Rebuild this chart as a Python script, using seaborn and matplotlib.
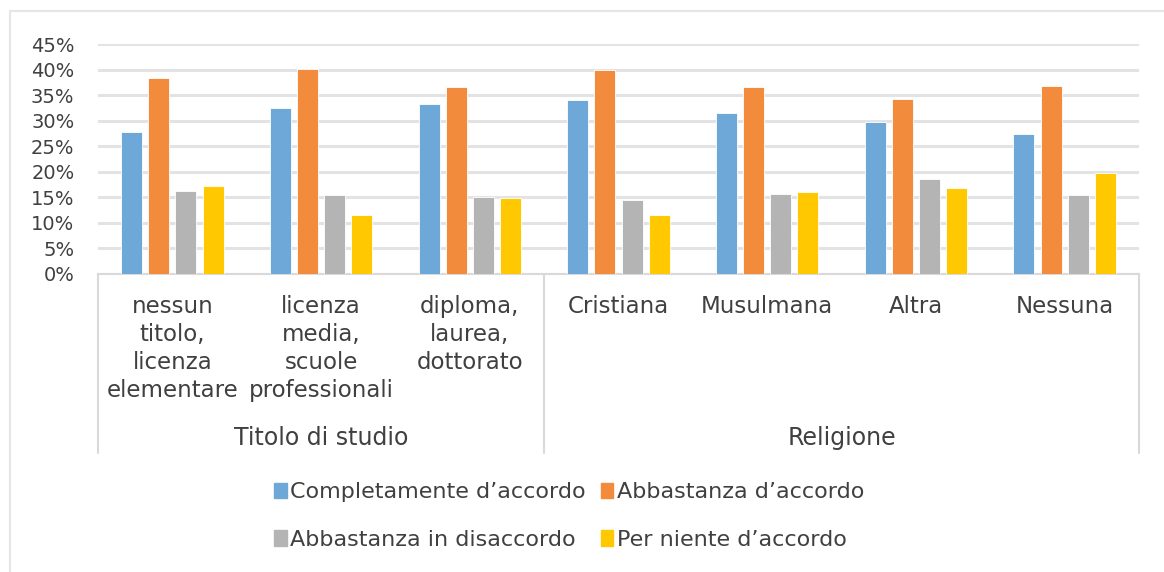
import pandas as pd
import matplotlib.pyplot as plt
import seaborn as sns
from matplotlib.lines import Line2D

# categories and groups
categories = ['nessun\ntitolo,\nlicenza\nelementare', 'licenza\nmedia,\nscuole\nprofessionali',
              'diploma,\nlaurea,\ndottorato', 'Cristiana', 'Musulmana', 'Altra', 'Nessuna']
groups = ['Titolo di studio', 'Religione']
group_sizes = [3, 4]

series = ['Completamente d\u2019accordo', 'Abbastanza d\u2019accordo',
          'Abbastanza in disaccordo', 'Per niente d\u2019accordo']
completamente = [0.278, 0.325, 0.333, 0.340, 0.316, 0.298, 0.275]
abbastanza = [0.384, 0.401, 0.366, 0.399, 0.366, 0.342, 0.369]
disaccordo = [0.162, 0.154, 0.151, 0.145, 0.157, 0.186, 0.154]
per_niente = [0.172, 0.115, 0.148, 0.115, 0.160, 0.168, 0.198]

yticks = [0, 0.05, 0.10, 0.15, 0.20, 0.25, 0.30, 0.35, 0.40, 0.45]
ytick_labels = ['0%', '5%', '10%', '15%', '20%', '25%', '30%', '35%', '40%', '45%']

colors = ['#6DA8D8', '#F28C3C', '#B4B4B4', '#FFC800']

rows = []
for name, vals in zip(series, [completamente, abbastanza, disaccordo, per_niente]):
    for cat, v in zip(categories, vals):
        rows.append({'categoria': cat, 'serie': name, 'valore': v})
df = pd.DataFrame(rows)

sns.set_style('white')
plt.rcParams['font.family'] = ['DejaVu Sans']
text_color = '#404040'

fig = plt.figure(figsize=(11.64, 5.72), dpi=100)
W, H = 1164, 572
x0, x1, y0, y1 = 98, 1139, 274, 44.3
ax = fig.add_axes([x0 / W, 1 - y0 / H, (x1 - x0) / W, (y0 - y1) / H])

sns.barplot(data=df, x='categoria', y='valore', hue='serie', order=categories,
            hue_order=series, palette=colors, saturation=1, width=0.73, gap=0.23,
            edgecolor='white', linewidth=0.6, legend=False, ax=ax, zorder=3)

ax.set_ylim(0, 0.45)
ax.set_xlim(-0.5, len(categories) - 0.5)
ax.set_yticks(yticks)
ax.set_yticklabels(ytick_labels, fontsize=14, color=text_color)
ax.yaxis.grid(True, color='#E3E3E3', linewidth=2.2, zorder=0)
ax.set_axisbelow(True)
ax.set_xlabel('')
ax.set_ylabel('')
ax.set_xticks(range(len(categories)))
ax.set_xticklabels(categories, fontsize=16.5, color=text_color, linespacing=1.28,
                   va='top', multialignment='center')
ax.tick_params(axis='x', length=0, pad=15)
ax.tick_params(axis='y', length=0, pad=17)
for side in ['top', 'right', 'left']:
    ax.spines[side].set_visible(False)
ax.spines['bottom'].set_color('#D9D9D9')
ax.spines['bottom'].set_linewidth(1.5)

# vertical separators of the category axis
bottom_y = 452.7
pos = 0
seps = [-0.5]
for n in group_sizes:
    pos += n
    seps.append(pos - 0.5)
for s in seps:
    xf = (x0 + (s + 0.5) / len(categories) * (x1 - x0)) / W
    fig.add_artist(Line2D([xf, xf], [1 - y0 / H, 1 - bottom_y / H],
                          color='#D9D9D9', linewidth=1.5))
for i, g in enumerate(groups):
    cx = (seps[i] + seps[i + 1]) / 2
    xf = (x0 + (cx + 0.5) / len(categories) * (x1 - x0)) / W
    fig.text(xf, 1 - 438 / H, g, ha='center', va='center', fontsize=17, color=text_color)

# outer border (top and left only visible)
fig.add_artist(Line2D([10 / W, 1], [1 - 11 / H, 1 - 11 / H], color='#E6E6E6', linewidth=1.6))
fig.add_artist(Line2D([10 / W, 10 / W], [1 - 11 / H, 0], color='#E6E6E6', linewidth=1.6))

# legend, filled row by row
handles = [plt.Rectangle((0, 0), 1, 1, color=c) for c in colors]
order = [0, 2, 1, 3]
fig.legend([handles[i] for i in order], [series[i] for i in order], loc='center',
           bbox_to_anchor=(0.489, 1 - 516 / H), ncol=2,
           frameon=False, fontsize=16, handlelength=0.55, handleheight=0.7,
           handletextpad=0.15, columnspacing=0.7, labelspacing=1.25, labelcolor=text_color)

fig.savefig('out.png', dpi=100)
